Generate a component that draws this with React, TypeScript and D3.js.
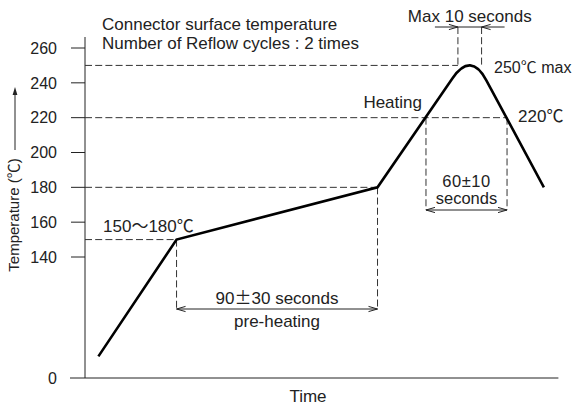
import React from 'react';
import * as d3 from 'd3';

const W = 575;
const H = 405;

// Temperature axis ticks (℃)
const tempTicks = [0, 140, 160, 180, 200, 220, 240, 260];

// Reflow profile: time (s, schematic) and temperature (℃)
// index 3 is the apex of the two ramps, rounded off so the top reads 250℃
const profileTime = [6, 41, 131, 172.8, 205.5];
const profileTemp = [25, 150, 180, 258, 180];
const peakTemp = 250;

// Pre-heating window 150~180℃, 90±30 s
const preheatTime = [41, 131];
const preheatTemp = [150, 180];

// Heating window above 220℃, 60±10 s
const heatTime = [152.7, 189];
const heatTemp = 220;

// Max 10 s at peak
const peakWindow = [167, 177.6];

const FONT = "'Liberation Sans', Arial, Helvetica, sans-serif";
const CJK = "'Noto Sans CJK JP', sans-serif";
const INK = '#222';

function T({ s, plain = '' }: { s: string; plain?: string }) {
  const parts: React.ReactNode[] = [];
  let buf = '';
  let k = 0;
  for (const ch of s) {
    if ((ch === '℃' || ch === '〜' || ch === '±') && !plain.includes(ch)) {
      if (buf) parts.push(<tspan key={k++}>{buf}</tspan>);
      buf = '';
      parts.push(
        <tspan key={k++} fontFamily={CJK}>
          {ch}
        </tspan>
      );
    } else buf += ch;
  }
  if (buf) parts.push(<tspan key={k++}>{buf}</tspan>);
  return <>{parts}</>;
}

function arrowHead(tx: number, ty: number, dir: number) {
  return `M${tx - dir * 9},${ty - 2.6}L${tx},${ty}L${tx - dir * 9},${ty + 2.6}`;
}

export default function App() {
  const x = d3.scaleLinear().domain([0, 212]).range([85, 85 + 212 * 2.233]);
  const y = d3.scaleLinear().domain([0, 140, 260]).range([378, 257, 48]);

  const x0 = x(0);
  const y0 = y(0);

  // profile path with rounded apex
  const pts = profileTime.map((t, i) => [x(t), y(profileTemp[i])]);
  const C = pts[3];
  const P = pts[2];
  const N = pts[4];
  const norm = (v: number[]) => {
    const l = Math.hypot(v[0], v[1]);
    return [v[0] / l, v[1] / l];
  };
  const u1 = norm([P[0] - C[0], P[1] - C[1]]);
  const u2 = norm([N[0] - C[0], N[1] - C[1]]);
  const dcut = ((y(peakTemp) - C[1]) * 4) / (u1[1] + u2[1]);
  const A = [C[0] + dcut * u1[0], C[1] + dcut * u1[1]];
  const B = [C[0] + dcut * u2[0], C[1] + dcut * u2[1]];
  const p = d3.path();
  p.moveTo(pts[0][0], pts[0][1]);
  p.lineTo(pts[1][0], pts[1][1]);
  p.lineTo(pts[2][0], pts[2][1]);
  p.lineTo(A[0], A[1]);
  p.quadraticCurveTo(C[0], C[1], B[0], B[1]);
  p.lineTo(N[0], N[1]);

  const dash = { stroke: '#333', strokeWidth: 1, strokeDasharray: '7,3.2', fill: 'none' };
  const thin = { stroke: INK, strokeWidth: 1, fill: 'none' };

  const preY = 309;
  const heatY = 210;
  const maxY = 27;

  const xp0 = x(preheatTime[0]);
  const xp1 = x(preheatTime[1]);
  const xh0 = x(heatTime[0]);
  const xh1 = x(heatTime[1]);
  const xm0 = x(peakWindow[0]);
  const xm1 = x(peakWindow[1]);

  return (
    <svg
      width={W}
      height={H}
      style={{ position: 'absolute', left: 0, top: 0, background: '#fff' }}
      fontFamily={FONT}
      fill={INK}
    >
      {/* axes */}
      <line x1={x0} x2={x0} y1={37} y2={y0} {...thin} />
      <line x1={x0 - 15} x2={x(212)} y1={y0} y2={y0} {...thin} />
      {tempTicks.map((t) => (
        <g key={t}>
          {t !== 0 && <line x1={x0 - 14} x2={x0} y1={y(t)} y2={y(t)} {...thin} />}
          <text x={57} y={y(t)} dy="0.36em" textAnchor="end" fontSize={16}>
            {t}
          </text>
        </g>
      ))}

      {/* y label + arrow */}
      <text
        transform={`translate(19,215) rotate(-90)`}
        textAnchor="middle"
        fontSize={15}
      >
        <T s="Temperature (℃)" />
      </text>
      <line x1={15} x2={15} y1={150} y2={92} {...thin} />
      <path d="M15,87 L12.6,95 L17.4,95 Z" fill={INK} />

      <text x={308} y={402} textAnchor="middle" fontSize={17}>
        Time
      </text>

      {/* title */}
      <text x={102} y={30} fontSize={17}>
        Connector surface temperature
      </text>
      <text x={102} y={49} fontSize={17}>
        Number of Reflow cycles : 2 times
      </text>

      {/* reference dashed horizontals */}
      <line x1={x0} x2={xm0} y1={y(peakTemp)} y2={y(peakTemp)} {...dash} />
      <line x1={x0} x2={xh1} y1={y(heatTemp)} y2={y(heatTemp)} {...dash} />
      <line x1={x0} x2={xp1} y1={y(preheatTemp[1])} y2={y(preheatTemp[1])} {...dash} />
      <line x1={x0} x2={xp0} y1={y(preheatTemp[0])} y2={y(preheatTemp[0])} {...dash} />

      {/* dashed verticals */}
      <line x1={xp0} x2={xp0} y1={y(preheatTemp[0])} y2={preY} {...dash} />
      <line x1={xp1} x2={xp1} y1={y(preheatTemp[1])} y2={preY} {...dash} />
      <line x1={xh0} x2={xh0} y1={y(heatTemp)} y2={heatY} {...dash} />
      <line x1={xh1} x2={xh1} y1={y(heatTemp)} y2={heatY} {...dash} />
      <line x1={xm0} x2={xm0} y1={maxY} y2={y(peakTemp)} {...dash} />
      <line x1={xm1} x2={xm1} y1={maxY} y2={y(peakTemp)} {...dash} />

      {/* dimension arrows */}
      <line x1={xp0} x2={xp1} y1={preY} y2={preY} {...thin} />
      <path d={arrowHead(xp0, preY, -1)} {...thin} />
      <path d={arrowHead(xp1, preY, 1)} {...thin} />

      <line x1={xh0} x2={xh1} y1={heatY} y2={heatY} {...thin} />
      <path d={arrowHead(xh0, heatY, -1)} {...thin} />
      <path d={arrowHead(xh1, heatY, 1)} {...thin} />

      <line x1={xm0 - 23} x2={xm1 + 23} y1={maxY} y2={maxY} {...thin} />
      <path d={arrowHead(xm0, maxY, 1)} {...thin} />
      <path d={arrowHead(xm1, maxY, -1)} {...thin} />

      {/* profile */}
      <path d={p.toString()} fill="none" stroke="#000" strokeWidth={2.6} strokeLinejoin="miter" />

      {/* annotations */}
      <text x={(xm0 + xm1) / 2} y={22} textAnchor="middle" fontSize={17}>
        Max 10 seconds
      </text>
      <text x={494} y={73} fontSize={16}>
        <T s="250℃ max" />
      </text>
      <text x={518} y={122} fontSize={17}>
        <T s="220℃" />
      </text>
      <text x={422} y={108} textAnchor="end" fontSize={17}>
        Heating
      </text>
      <text x={103} y={232} fontSize={17}>
        <T s="150〜180℃" />
      </text>
      <text x={(xp0 + xp1) / 2} y={304} textAnchor="middle" fontSize={17}>
        <T s="90±30 seconds" />
      </text>
      <text x={(xp0 + xp1) / 2} y={327} textAnchor="middle" fontSize={17}>
        pre-heating
      </text>
      <text
        x={(xh0 + xh1) / 2}
        y={187}
        textAnchor="middle"
        fontSize={16.5}
        letterSpacing={0.6}
      >
        <T s="60±10" plain="±" />
      </text>
      <text x={(xh0 + xh1) / 2} y={204} textAnchor="middle" fontSize={16.5}>
        seconds
      </text>
    </svg>
  );
}
